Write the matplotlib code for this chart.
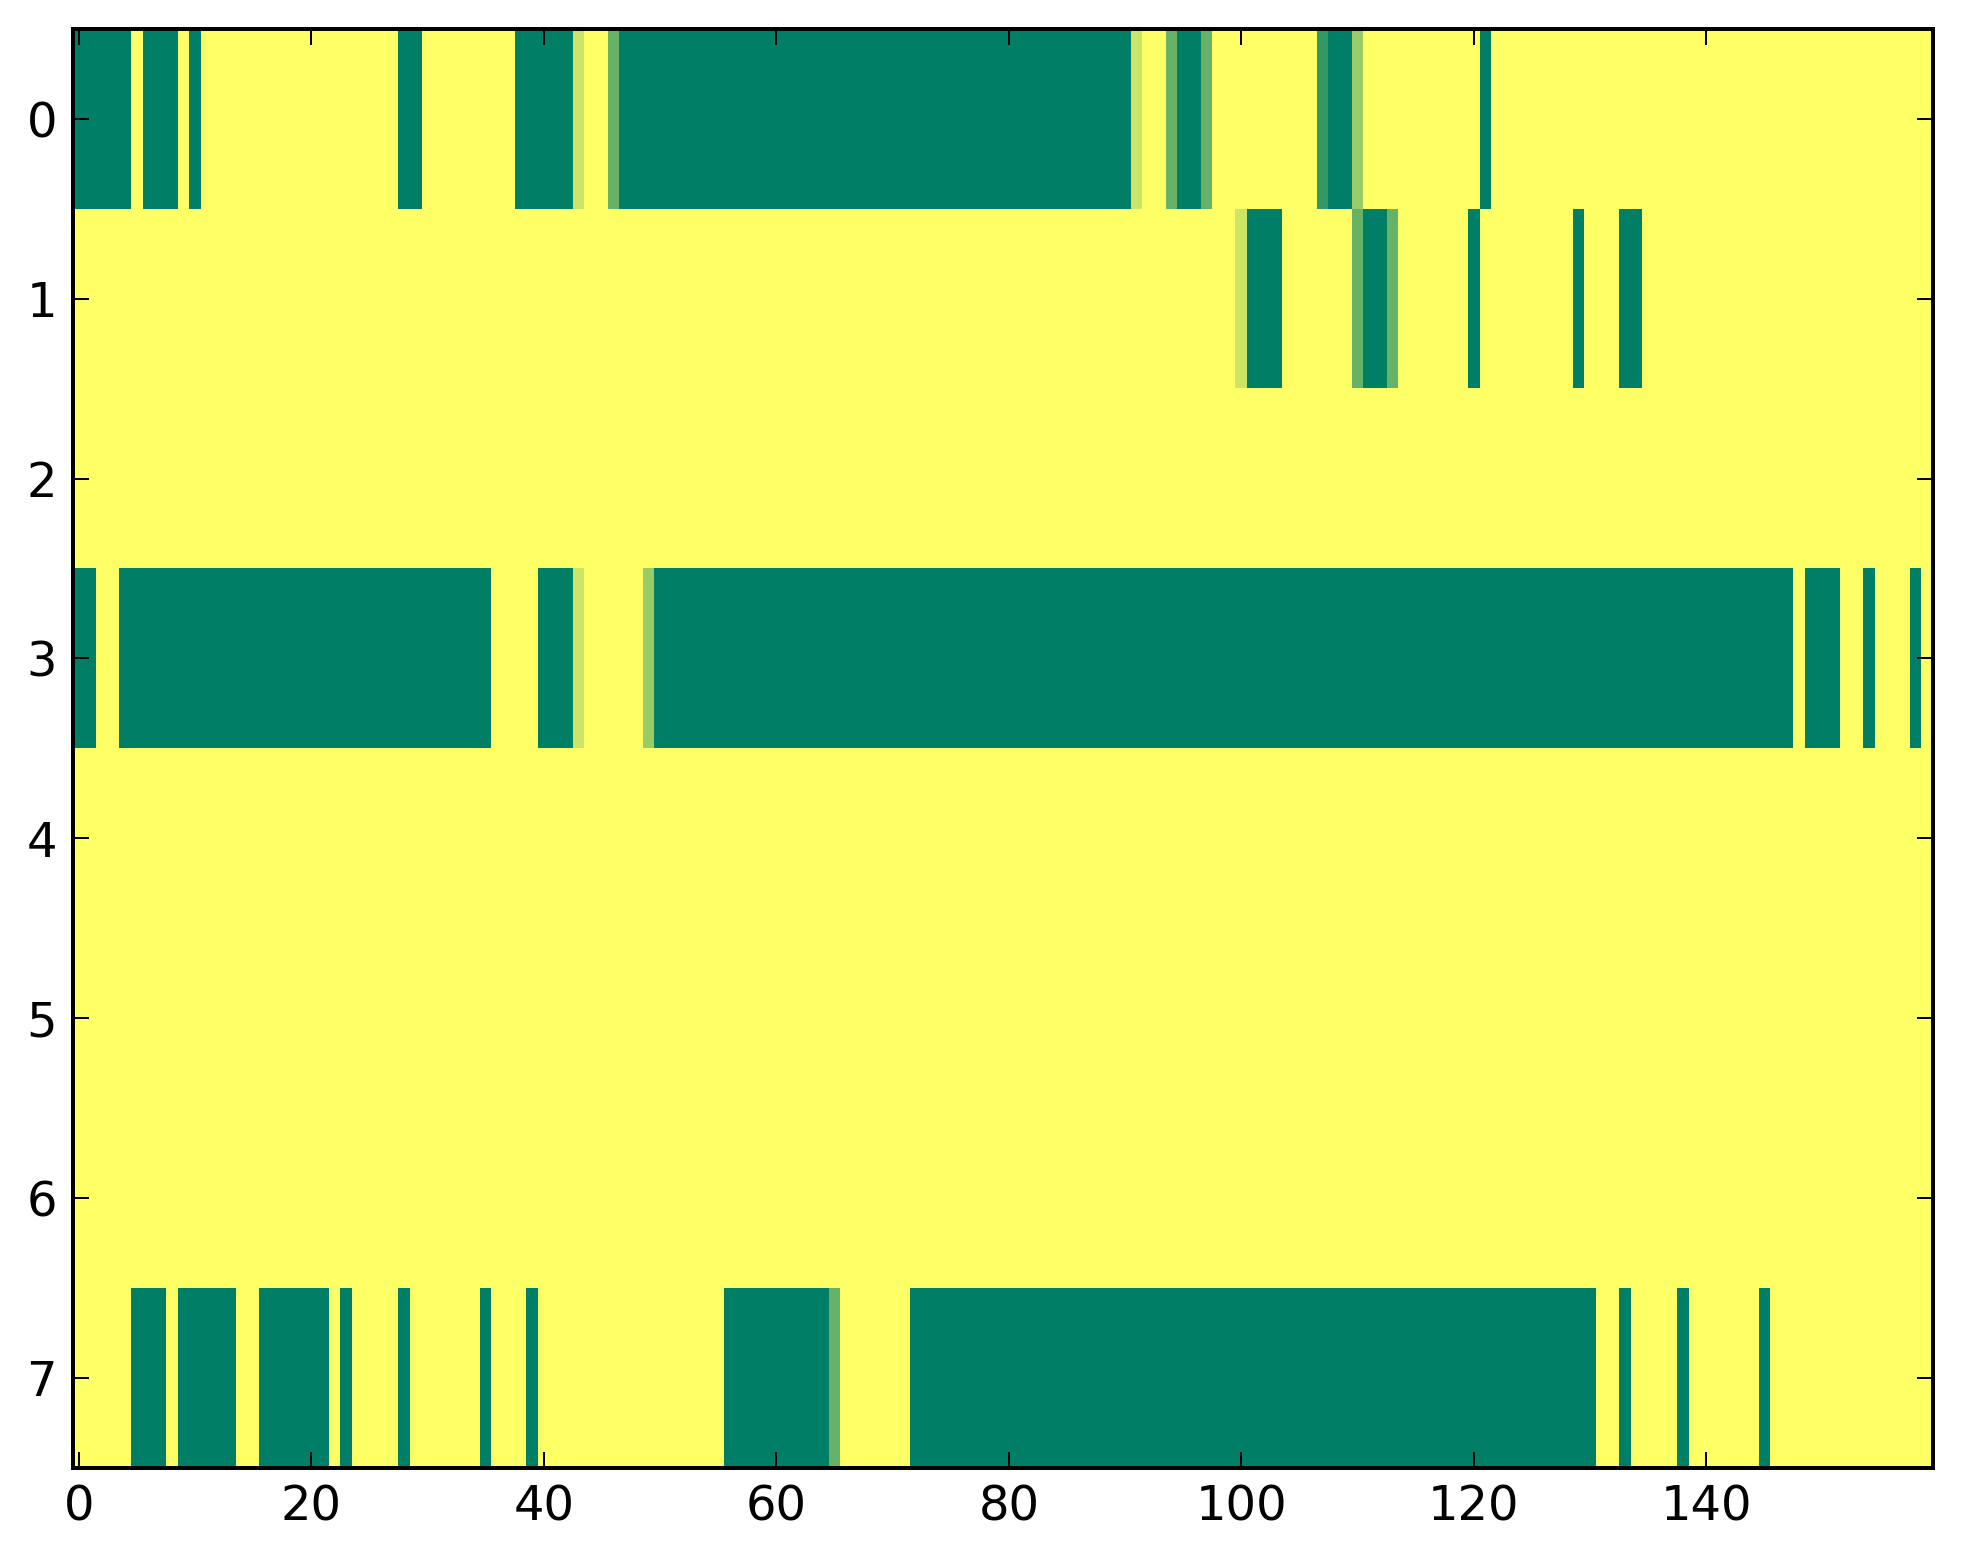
import matplotlib
matplotlib.use("Agg")
import matplotlib.pyplot as plt
import numpy as np

# Heatmap values (8 rows x 160 columns)
row0 = [1, 1, 1, 1, 1, 0, 1, 1, 1, 0, 1, 0, 0, 0, 0, 0, 0, 0, 0, 0,
        0, 0, 0, 0, 0, 0, 0, 0, 1, 1, 0, 0, 0, 0, 0, 0, 0, 0, 1, 1,
        1, 1, 1, 0.2, 0, 0, 0.6, 1, 1, 1, 1, 1, 1, 1, 1, 1, 1, 1, 1, 1,
        1, 1, 1, 1, 1, 1, 1, 1, 1, 1, 1, 1, 1, 1, 1, 1, 1, 1, 1, 1,
        1, 1, 1, 1, 1, 1, 1, 1, 1, 1, 1, 0.2, 0, 0, 0.6, 1, 1, 0.6, 0, 0,
        0, 0, 0, 0, 0, 0, 0, 0.8, 1, 1, 0.4, 0, 0, 0, 0, 0, 0, 0, 0, 0,
        0, 1, 0, 0, 0, 0, 0, 0, 0, 0, 0, 0, 0, 0, 0, 0, 0, 0, 0, 0,
        0, 0, 0, 0, 0, 0, 0, 0, 0, 0, 0, 0, 0, 0, 0, 0, 0, 0, 0, 0]

row1 = [0, 0, 0, 0, 0, 0, 0, 0, 0, 0, 0, 0, 0, 0, 0, 0, 0, 0, 0, 0,
        0, 0, 0, 0, 0, 0, 0, 0, 0, 0, 0, 0, 0, 0, 0, 0, 0, 0, 0, 0,
        0, 0, 0, 0, 0, 0, 0, 0, 0, 0, 0, 0, 0, 0, 0, 0, 0, 0, 0, 0,
        0, 0, 0, 0, 0, 0, 0, 0, 0, 0, 0, 0, 0, 0, 0, 0, 0, 0, 0, 0,
        0, 0, 0, 0, 0, 0, 0, 0, 0, 0, 0, 0, 0, 0, 0, 0, 0, 0, 0, 0,
        0.2, 1, 1, 1, 0, 0, 0, 0, 0, 0, 0.6, 1, 1, 0.6, 0, 0, 0, 0, 0, 0,
        1, 0, 0, 0, 0, 0, 0, 0, 0, 1, 0, 0, 0, 1, 1, 0, 0, 0, 0, 0,
        0, 0, 0, 0, 0, 0, 0, 0, 0, 0, 0, 0, 0, 0, 0, 0, 0, 0, 0, 0]

row2 = [0.0] * 160

row3 = [1, 1, 0, 0, 1, 1, 1, 1, 1, 1, 1, 1, 1, 1, 1, 1, 1, 1, 1, 1,
        1, 1, 1, 1, 1, 1, 1, 1, 1, 1, 1, 1, 1, 1, 1, 1, 0, 0, 0, 0,
        1, 1, 1, 0.2, 0, 0, 0, 0, 0, 0.4, 1, 1, 1, 1, 1, 1, 1, 1, 1, 1,
        1, 1, 1, 1, 1, 1, 1, 1, 1, 1, 1, 1, 1, 1, 1, 1, 1, 1, 1, 1,
        1, 1, 1, 1, 1, 1, 1, 1, 1, 1, 1, 1, 1, 1, 1, 1, 1, 1, 1, 1,
        1, 1, 1, 1, 1, 1, 1, 1, 1, 1, 1, 1, 1, 1, 1, 1, 1, 1, 1, 1,
        1, 1, 1, 1, 1, 1, 1, 1, 1, 1, 1, 1, 1, 1, 1, 1, 1, 1, 1, 1,
        1, 1, 1, 1, 1, 1, 1, 1, 0, 1, 1, 1, 0, 0, 1, 0, 0, 0, 1, 0]

row4 = [0.0] * 160
row5 = [0.0] * 160
row6 = [0.0] * 160

row7 = [0, 0, 0, 0, 0, 1, 1, 1, 0, 1, 1, 1, 1, 1, 0, 0, 1, 1, 1, 1,
        1, 1, 0, 1, 0, 0, 0, 0, 1, 0, 0, 0, 0, 0, 0, 1, 0, 0, 0, 1,
        0, 0, 0, 0, 0, 0, 0, 0, 0, 0, 0, 0, 0, 0, 0, 0, 1, 1, 1, 1,
        1, 1, 1, 1, 1, 0.6, 0, 0, 0, 0, 0, 0, 1, 1, 1, 1, 1, 1, 1, 1,
        1, 1, 1, 1, 1, 1, 1, 1, 1, 1, 1, 1, 1, 1, 1, 1, 1, 1, 1, 1,
        1, 1, 1, 1, 1, 1, 1, 1, 1, 1, 1, 1, 1, 1, 1, 1, 1, 1, 1, 1,
        1, 1, 1, 1, 1, 1, 1, 1, 1, 1, 1, 0, 0, 1, 0, 0, 0, 0, 1, 0,
        0, 0, 0, 0, 0, 1, 0, 0, 0, 0, 0, 0, 0, 0, 0, 0, 0, 0, 0, 0]

x_ticks = [0, 20, 40, 60, 80, 100, 120, 140]
y_ticks = [0, 1, 2, 3, 4, 5, 6, 7]

data = np.array([row0, row1, row2, row3, row4, row5, row6, row7], dtype=float)

W, H, DPI = 1963, 1564, 288
fig = plt.figure(figsize=(W / DPI, H / DPI), dpi=DPI, facecolor="white")
left, right, top, bottom = 73, 1933, 29, 1467.7
ax = fig.add_axes([left / W, 1 - bottom / H, (right - left) / W, (bottom - top) / H])

ax.imshow(data, cmap="summer_r", interpolation="nearest", aspect="auto",
          vmin=0, vmax=1)

ax.set_xticks(x_ticks)
ax.set_yticks(y_ticks)
ax.tick_params(direction="in", top=True, right=True, length=4, width=0.5,
               labelsize=12, pad=4, colors="black")
for s in ax.spines.values():
    s.set_linewidth(1.0)

fig.savefig("out.png", dpi=DPI, facecolor="white")
